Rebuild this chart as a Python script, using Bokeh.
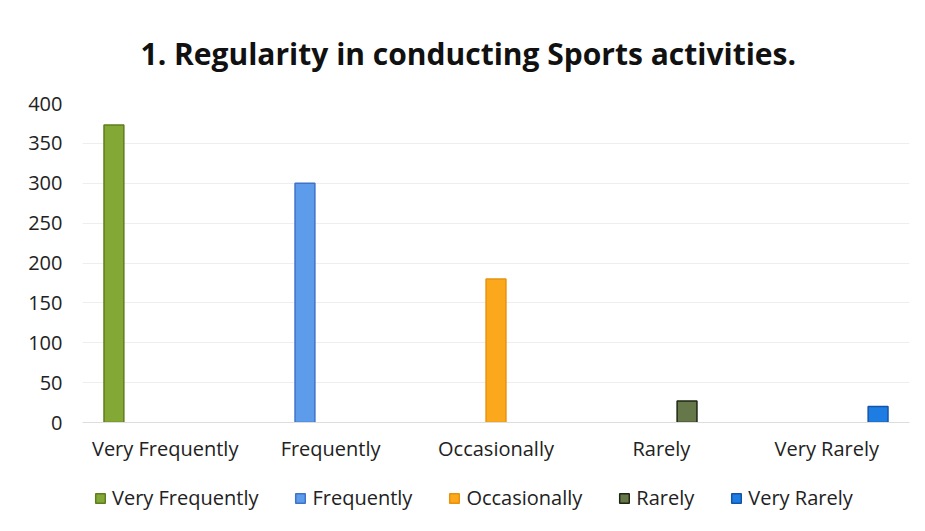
from bokeh.plotting import figure
from bokeh.models import FactorRange, ColumnDataSource, Legend, LegendItem
from bokeh.layouts import column
from bokeh.transform import dodge
from bokeh.embed import file_html
from bokeh.resources import INLINE

categories = ["Very Frequently", "Frequently", "Occasionally", "Rarely", "Very Rarely"]
values = [373, 300, 180, 27, 20]
y_ticks = [0, 50, 100, 150, 200, 250, 300, 350, 400]
title_text = "1. Regularity in conducting Sports activities."

fills = ["#84A835", "#5C9CEB", "#FBA81C", "#66784A", "#1E7DE2"]
lines = ["#5E7D1E", "#3F72C8", "#E8920C", "#1E2612", "#1454A8"]

FONT = "Open Sans"

p = figure(x_range=FactorRange(*categories, range_padding=0), y_range=(0, 400),
           frame_width=827, frame_height=319,
           output_backend="svg", toolbar_location=None,
           min_border_left=82, min_border_right=8, min_border_top=103, min_border_bottom=50)

p.title.text = title_text
p.title.text_font = FONT
p.title.text_font_size = "30px"
p.title.text_font_style = "bold"
p.title.align = "left"
p.title.offset = 58
p.title.text_color = "#111111"
p.title.standoff = 60

# legend strip: the same series, in a second figure that shows only the legend
p2 = figure(x_range=p.x_range, y_range=(0, 400), frame_width=917, frame_height=46,
            output_backend="svg", toolbar_location=None,
            min_border_left=0, min_border_right=0, min_border_top=0, min_border_bottom=0)

items = []
for i, cat in enumerate(categories):
    src = ColumnDataSource(dict(x=[cat], top=[values[i]]))
    p.vbar(x=dodge("x", (i - 2) * 0.155, range=p.x_range), top="top", width=0.12,
           source=src, fill_color=fills[i], line_color=lines[i], line_width=1.5)
    r2 = p2.vbar(x=dodge("x", (i - 2) * 0.155, range=p2.x_range), top="top", width=0.12,
                 source=src, fill_color=fills[i], line_color=lines[i], line_width=1.5,
                 visible=False)
    items.append(LegendItem(label=cat, renderers=[r2]))

legend = Legend(items=items, orientation="horizontal", location=(94, 7),
                label_text_font=FONT, label_text_font_size="20px", label_text_color="#222222",
                glyph_width=12, glyph_height=12, label_standoff=6, spacing=36,
                border_line_color=None, background_fill_alpha=0, padding=4, margin=0,
                inactive_fill_alpha=0)
p2.add_layout(legend, "center")
p2.axis.visible = False
p2.grid.grid_line_color = None
p2.outline_line_color = None

p.yaxis.ticker = y_ticks
p.yaxis.axis_line_color = None
p.yaxis.major_tick_line_color = None
p.yaxis.minor_tick_line_color = None
p.yaxis.major_label_standoff = 14
p.yaxis.major_label_text_font = FONT
p.yaxis.major_label_text_font_size = "20px"
p.yaxis.major_label_text_color = "#222222"

p.xaxis.axis_line_color = "#DDDDDD"
p.xaxis.major_tick_line_color = None
p.xaxis.minor_tick_line_color = None
p.xaxis.major_label_standoff = 6
p.xaxis.major_label_text_font = FONT
p.xaxis.major_label_text_font_size = "20px"
p.xaxis.major_label_text_color = "#222222"

p.xgrid.grid_line_color = None
p.ygrid.grid_line_color = "#EEEEEE"
p.outline_line_color = None

layout = column(p, p2, spacing=0)
open("out.html", "w").write(file_html(layout, INLINE))
